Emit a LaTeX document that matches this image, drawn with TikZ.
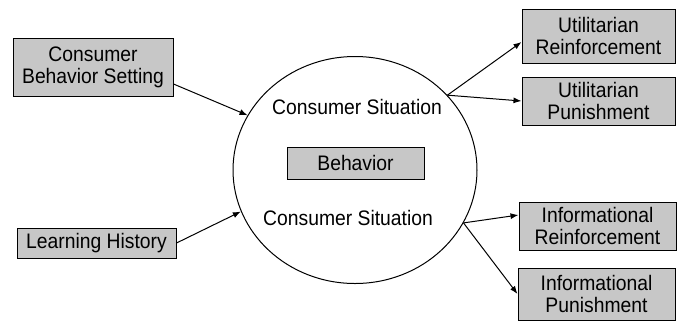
\documentclass[tikz,border=0pt]{standalone}
\usepackage{fontspec}
\setmainfont{Liberation Sans}[FakeStretch=0.92]
\usetikzlibrary{shapes.geometric,arrows.meta}
\begin{document}
\begin{tikzpicture}[x=1pt,y=-1pt,
  font=\fontsize{21}{22}\selectfont,
  box/.style={draw, line width=1pt, fill=black!22, inner sep=0pt, align=center},
  link/.style={line width=1pt, -{Latex[length=8pt,width=6pt]}}]
\useasboundingbox (0,0) rectangle (677,322);

% central situation
\node[ellipse, draw, line width=1pt, minimum width=244pt, minimum height=227pt] (sit) at (355,170) {};
\node (cs1) at (357,107) {Consumer Situation};
\node (cs2) at (348,218) {Consumer Situation};
\node[box, minimum width=137pt, minimum height=32pt] (beh) at (355.5,163) {Behavior};

% antecedents
\node[box, minimum width=160pt, minimum height=58pt] (cbs) at (93,67) {Consumer\\Behavior Setting};
\node[box, minimum width=159pt, minimum height=30pt] (lh) at (96.5,243) {Learning History};

% consequences
\node[box, minimum width=153pt, minimum height=54pt] (ur) at (598.5,36) {Utilitarian\\Reinforcement};
\node[box, minimum width=153pt, minimum height=48pt] (up) at (598.5,101) {Utilitarian\\Punishment};
\node[box, minimum width=157pt, minimum height=48pt] (ir) at (597.5,226) {Informational\\Reinforcement};
\node[box, minimum width=157pt, minimum height=52pt] (ip) at (596.5,294) {Informational\\Punishment};

% connectors
\draw[link] ([yshift=-17pt]cbs.east) -- (sit.153);
\draw[link] (lh.east) -- (sit.200);
\draw[link] (sit.39) -- ([yshift=-6pt]ur.west);
\draw[link] (sit.39) -- (up.west);
\draw[link] (sit.334) -- ([yshift=11pt]ir.west);
\draw[link] (sit.334) -- (ip.west);
\end{tikzpicture}
\end{document}
